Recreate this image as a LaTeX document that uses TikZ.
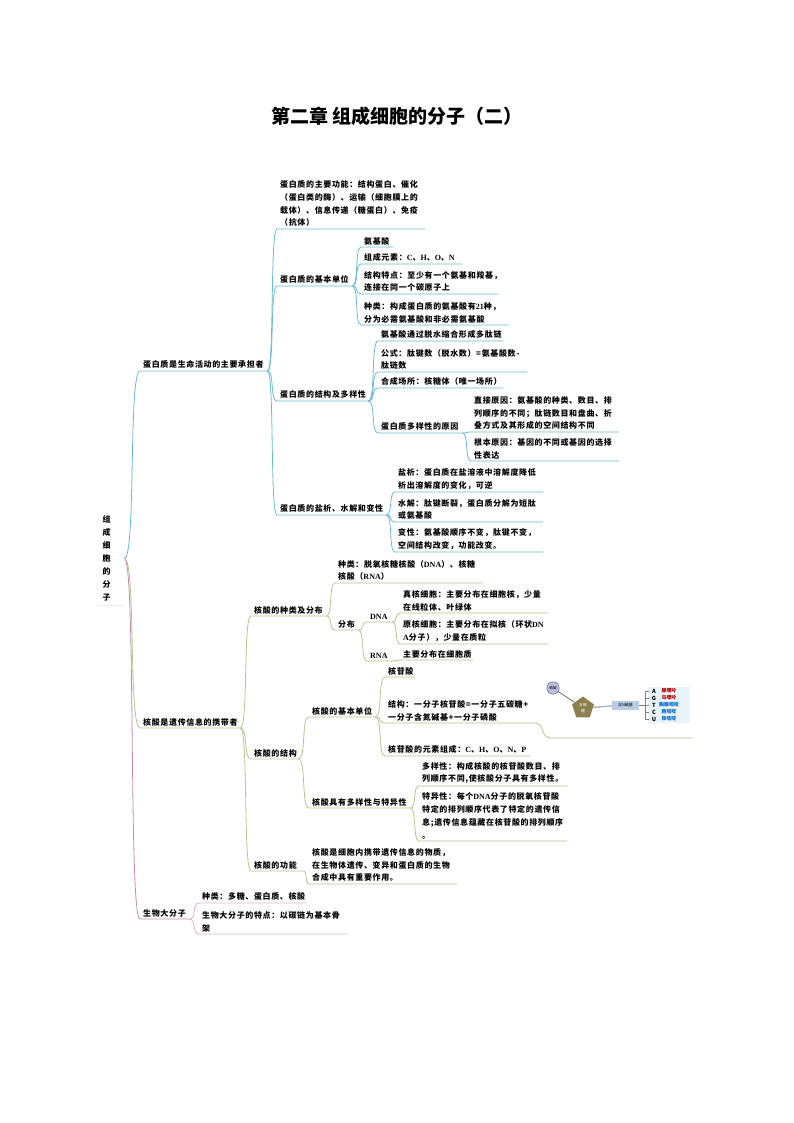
\documentclass[tikz,border=0pt]{standalone}
\usepackage{fontspec}
\setmainfont{Noto Sans CJK SC}[LetterSpace=8]
\newfontfamily\titlefont{Noto Sans CJK SC}
\newfontfamily\smallfont{Noto Sans CJK SC}
\newfontfamily\latfont{Liberation Serif}
\usetikzlibrary{calc,shapes.geometric}
\definecolor{mapblue}{RGB}{105,185,215}
\definecolor{mapgreen}{RGB}{178,196,145}
\definecolor{mappink}{RGB}{224,182,214}
\definecolor{maprose}{RGB}{196,140,170}
\definecolor{basetan}{RGB}{140,128,80}
\definecolor{basebar}{RGB}{184,204,228}
\definecolor{basepale}{RGB}{232,244,250}
\definecolor{phosfill}{RGB}{184,192,226}
\newcommand{\la}[1]{{\latfont\bfseries #1}}
\newcommand{\branchfrom}[3]{\draw[#1] (#2) .. controls ($(#2)!.75!(#2-|#3.south west)$) and ($(#3.south west)!.75!(#3.south west-|#2)$) .. (#3.south west) -- (#3.south east);}
\newcommand{\branch}[3]{\branchfrom{#1}{#2.south east}{#3}}
\tikzset{
	leaf/.style={anchor=south west,inner xsep=3pt,inner ysep=2pt,align=left,text width=\the\dimexpr#1pt-6pt\relax,
		font=\fontsize{8}{12.9}\selectfont\bfseries},
	blueline/.style={mapblue,line width=.8pt},
	greenline/.style={mapgreen,line width=.8pt},
	pinkline/.style={mappink,line width=.9pt},
	roseline/.style={maprose,line width=.8pt},
	phos/.style={circle,draw=gray!70!black,fill=phosfill,minimum size=12.5pt,inner sep=0pt,font=\smallfont\fontsize{3.6}{4}\selectfont},
	sugar/.style={regular polygon,regular polygon sides=5,fill=basetan,text=white,minimum size=23pt,inner sep=0pt,align=center,font=\smallfont\fontsize{3.8}{5.5}\selectfont},
	basebox/.style={fill=basebar,minimum width=27pt,minimum height=9pt,inner sep=0pt,font=\smallfont\fontsize{4}{5}\selectfont},
	panel/.style={fill=basepale,minimum width=42pt,minimum height=36pt,inner sep=0pt},
	letter/.style={inner sep=0pt,font=\smallfont\bfseries\fontsize{5.6}{6}\selectfont},
	basename/.style={inner sep=0pt,font=\smallfont\bfseries\fontsize{4.9}{6}\selectfont},
}
\begin{document}
\begin{tikzpicture}[x=1pt,y=-1pt]
	\useasboundingbox (0,0) rectangle (794,1123);
	\node[anchor=west,inner sep=0pt,font=\titlefont\bfseries\fontsize{19}{20}\selectfont] (maintitle) at (271,116) {第二章 组成细胞的分子（二）};
	\node[leaf=27,inner ysep=4pt] (root) at (97,605) {\hspace*{2.5pt}\parbox{10pt}{组\\成\\细\\胞\\的\\分\\子}};
	\draw[black!8,line width=.6pt] (root.south west) -- (root.south east);
	\coordinate (rootout) at (root.east);

	\node[leaf=127] (prot) at (140,371) {蛋白质是生命活动的主要承担者};
	\node[leaf=100] (nucl) at (140,728) {核酸是遗传信息的携带者};
	\node[leaf=49] (macro) at (140,919) {生物大分子};
	\branchfrom{blueline}{rootout}{prot}
	\branchfrom{greenline}{rootout}{nucl}
	\branchfrom{roseline}{rootout}{macro}

	\node[leaf=148] (protfunc) at (277,229) {蛋白质的主要功能：结构蛋白、催化\\（蛋白类的酶）、运输（细胞膜上的\\载体）、信息传递（糖蛋白）、免疫\\（抗体）};
	\node[leaf=75] (protunit) at (277,286) {蛋白质的基本单位};
	\node[leaf=91] (protstruct) at (277,401) {蛋白质的结构及多样性};
	\node[leaf=109] (protsalt) at (277,515) {蛋白质的盐析、水解和变性};
	\branch{blueline}{prot}{protfunc}
	\branch{blueline}{prot}{protunit}
	\branch{blueline}{prot}{protstruct}
	\branch{blueline}{prot}{protsalt}

	\node[leaf=32] (amino) at (361,247) {氨基酸};
	\node[leaf=101] (aminoel) at (361,264) {组成元素：\la{C}、\la{H}、\la{O}、\la{N}};
	\node[leaf=137] (aminofeat) at (361,294) {结构特点：至少有一个氨基和羧基，\\连接在同一个碳原子上};
	\node[leaf=148] (aminokind) at (361,325) {种类：构成蛋白质的氨基酸有\la{21}种，\\分为必需氨基酸和非必需氨基酸};
	\branch{blueline}{protunit}{amino}
	\branch{blueline}{protunit}{aminoel}
	\branch{blueline}{protunit}{aminofeat}
	\branch{blueline}{protunit}{aminokind}

	\node[leaf=125] (peptide) at (378,341) {氨基酸通过脱水缩合形成多肽链};
	\node[leaf=149] (formula) at (378,372) {公式：肽键数（脱水数）=氨基酸数-\\肽链数};
	\node[leaf=125] (ribosome) at (378,388) {合成场所：核糖体（唯一场所）};
	\node[leaf=84] (diverse) at (378,433) {蛋白质多样性的原因};
	\branch{blueline}{protstruct}{peptide}
	\branch{blueline}{protstruct}{formula}
	\branch{blueline}{protstruct}{ribosome}
	\branch{blueline}{protstruct}{diverse}
	\node[leaf=148] (direct) at (471,432) {直接原因：氨基酸的种类、数目、排\\列顺序的不同；肽链数目和盘曲、折\\叠方式及其形成的空间结构不同};
	\node[leaf=148] (rootcause) at (471,461) {根本原因：基因的不同或基因的选择\\性表达};
	\branch{blueline}{diverse}{direct}
	\branch{blueline}{diverse}{rootcause}

	\node[leaf=148] (salting) at (395,492) {盐析：蛋白质在盐溶液中溶解度降低\\析出溶解度的变化，可逆};
	\node[leaf=148] (hydro) at (395,522) {水解：肽键断裂，蛋白质分解为短肽\\或氨基酸};
	\node[leaf=148] (denature) at (395,552) {变性：氨基酸顺序不变，肽键不变，\\空间结构改变，功能改变。};
	\branch{blueline}{protsalt}{salting}
	\branch{blueline}{protsalt}{hydro}
	\branch{blueline}{protsalt}{denature}

	\node[leaf=75] (nuclkind) at (251,616) {核酸的种类及分布};
	\node[leaf=47] (nuclstruct) at (251,759) {核酸的结构};
	\node[leaf=52] (nuclfunc) at (251,871) {核酸的功能};
	\branch{greenline}{nucl}{nuclkind}
	\branch{greenline}{nucl}{nuclstruct}
	\branch{greenline}{nucl}{nuclfunc}

	\node[leaf=148] (kinds) at (335,583) {种类：脱氧核糖核酸（\la{DNA}）、核糖\\核酸（\la{RNA}）};
	\node[leaf=23] (distrib) at (335,630) {分布};
	\branch{greenline}{nuclkind}{kinds}
	\branch{greenline}{nuclkind}{distrib}
	\node[leaf=25] (dna) at (367,622) {\la{DNA}};
	\node[leaf=25] (rna) at (367,661) {\la{RNA}};
	\branch{greenline}{distrib}{dna}
	\branch{greenline}{distrib}{rna}
	\node[leaf=148] (eukaryote) at (400,613) {真核细胞：主要分布在细胞核，少量\\在线粒体、叶绿体};
	\node[leaf=148] (prokaryote) at (400,644) {原核细胞：主要分布在拟核（环状\la{DN}\\\la{A}分子），少量在质粒};
	\node[leaf=73] (cytoplasm) at (400,660) {主要分布在细胞质};
	\branch{greenline}{dna}{eukaryote}
	\branch{greenline}{dna}{prokaryote}
	\branch{greenline}{rna}{cytoplasm}

	\node[leaf=66] (unit) at (309,717) {核酸的基本单位};
	\node[leaf=101] (variety) at (309,808) {核酸具有多样性与特异性};
	\node[leaf=148] (funcnote) at (309,884) {核酸是细胞内携带遗传信息的物质，\\在生物体遗传、变异和蛋白质的生物\\合成中具有重要作用。};
	\branch{greenline}{nuclstruct}{unit}
	\branch{greenline}{nuclstruct}{variety}
	\branch{greenline}{nuclfunc}{funcnote}

	\node[leaf=30] (nucleotide) at (385,677) {核苷酸};
	\node[leaf=148] (composition) at (385,723) {结构：一分子核苷酸=一分子五碳糖+\\一分子含氮碱基+一分子磷酸};
	\node[leaf=145] (elements) at (385,756) {核苷酸的元素组成：\la{C}、\la{H}、\la{O}、\la{N}、\la{P}};
	\branch{greenline}{unit}{nucleotide}
	\branch{greenline}{unit}{composition}
	\branch{greenline}{unit}{elements}
	\node[leaf=140] (figline) at (552,738) {};
	\branch{greenline}{composition}{figline}

	\node[leaf=148] (varnote) at (419,786) {多样性：构成核酸的核苷酸数目、排\\列顺序不同,使核酸分子具有多样性。};
	\node[leaf=148] (specnote) at (419,841) {特异性：每个\la{DNA}分子的脱氧核苷酸\\特定的排列顺序代表了特定的遗传信\\息;遗传信息蕴藏在核苷酸的排列顺序\\。};
	\branch{greenline}{variety}{varnote}
	\branch{greenline}{variety}{specnote}

	\node[leaf=108] (macrokind) at (199,903) {种类：多糖、蛋白质、核酸};
	\node[leaf=148] (macrofeat) at (199,934) {生物大分子的特点：以碳链为基本骨\\架};
	\branch{pinkline}{macro}{macrokind}
	\branch{pinkline}{macro}{macrofeat}

	\node[panel] (panel) at (669,705) {};
	\node[phos] (phosphate) at (553,688) {磷酸};
	\node[sugar] (sugar) at (583,708) {五碳\\糖};
	\node[basebox] (nbase) at (625.5,705) {含N碱基};
	\draw[black!70,line width=.6pt] (phosphate) -- (sugar);
	\draw[basebar!70!gray,line width=1.4pt] (sugar) -- (nbase);
	\coordinate (brk) at (645,705);
	\foreach \lname/\ypos/\cname/\ccol in {A/691/腺嘌呤/red!70!black,G/698/鸟嘌呤/red!70!black,T/705/胸腺嘧啶/blue!50!cyan!80!black,C/712/胞嘧啶/blue!50!cyan!80!black,U/719/尿嘧啶/blue!50!cyan!80!black}{
		\node[letter] (let\lname) at (654,\ypos) {\lname};
		\node[basename,text=\ccol] (name\lname) at (669,\ypos) {\cname};
		\draw[black!50,line width=.6pt] (nbase.east) -- (brk) |- ($(let\lname.west)+(-3,0)$);
	}
\end{tikzpicture}
\end{document}
